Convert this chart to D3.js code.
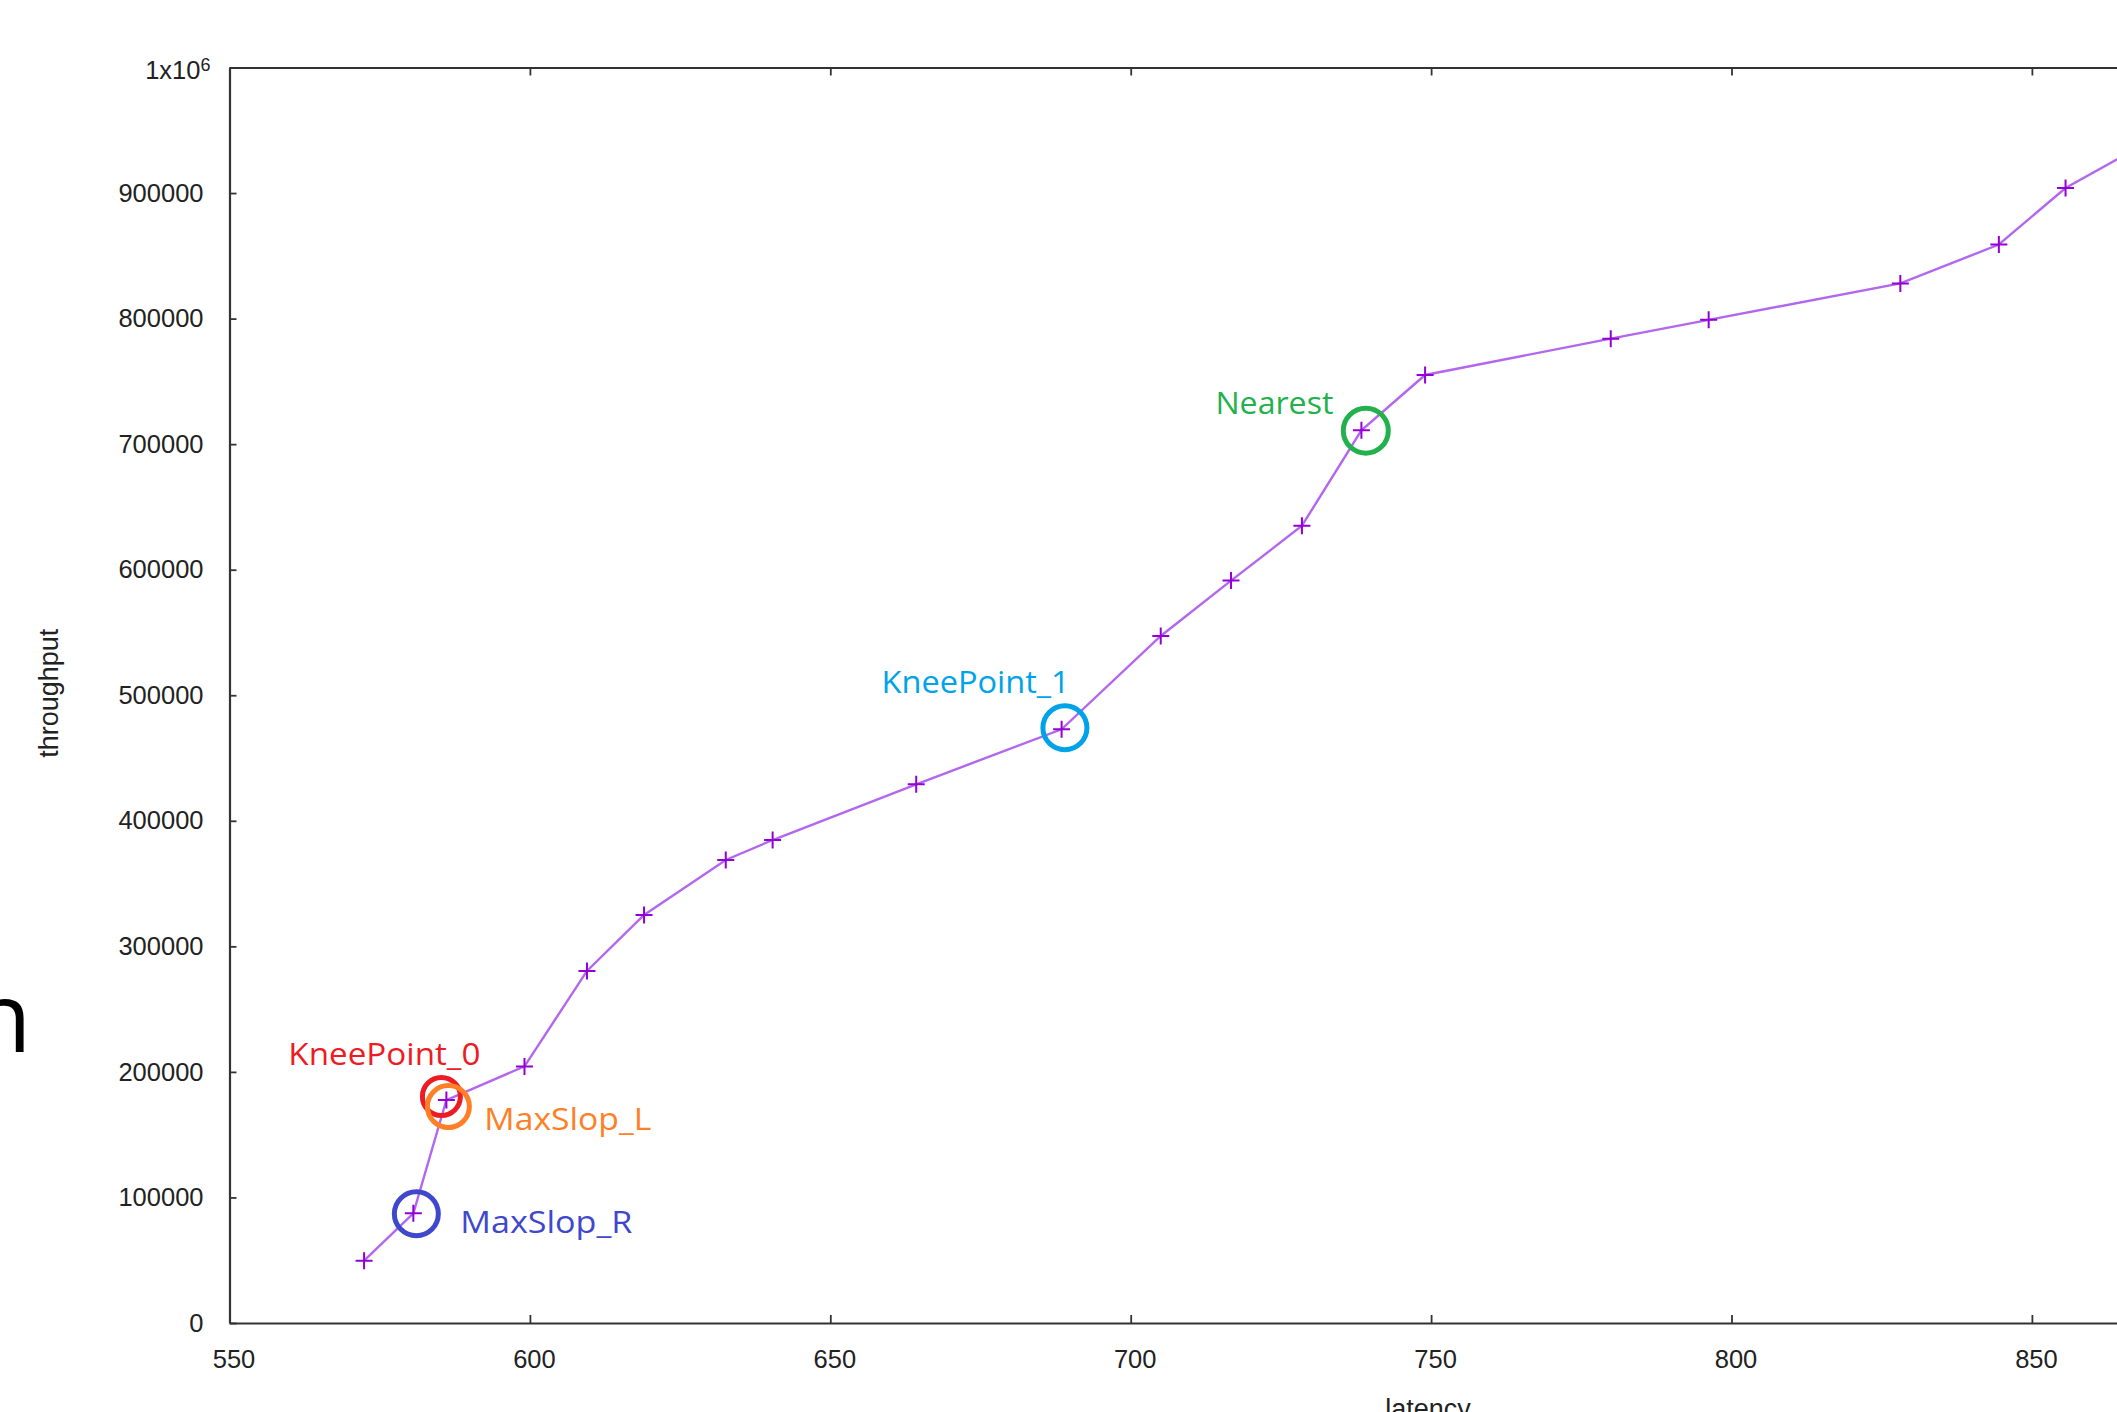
<!DOCTYPE html>
<html>
<head>
<meta charset="utf-8">
<script src="https://cdn.jsdelivr.net/npm/d3@7"></script>
<style>
  html, body { margin: 0; padding: 0; background: #fff; overflow: hidden; }
  svg { display: block; }
</style>
</head>
<body>
<svg id="chart" width="2117" height="1412"></svg>
<script>
// ---------------- data ----------------
const latency = [572.4, 580.6, 586.1, 599.1, 609.5, 619.0, 632.6, 640.4, 664.3, 688.5,
                 705.0, 716.7, 728.5, 738.4, 749.0, 779.9, 796.2, 828.1, 844.5, 855.6, 870.0];
const throughput = [49600, 87400, 177600, 204400, 280400, 325000, 368800, 384700, 429100, 472900,
                    547200, 591300, 635000, 711000, 755100, 784000, 799000, 828000, 859000, 904000, 942500];
const xTickValues = [550, 600, 650, 700, 750, 800, 850];
const yTickValues = [0, 100000, 200000, 300000, 400000, 500000, 600000, 700000, 800000, 900000, 1000000];
const xLabel = "latency";
const yLabel = "throughput";
const annotationLabels = ["KneePoint_0", "MaxSlop_L", "MaxSlop_R", "KneePoint_1", "Nearest"];
const annotationPointIndex = [2, 2, 1, 9, 13];

// ---------------- styles / layout ----------------
const annotationStyle = [
  { color: "#ED1C24", cdx: -5,  cdy: -3.5, r: 19, ldx: -158, ldy: -35, len: 192 },
  { color: "#FF7F27", cdx: 2,   cdy: 6.5,  r: 21, ldx: 38,   ldy: 30,  len: 167 },
  { color: "#3F48CC", cdx: 3,   cdy: 0.5,  r: 22, ldx: 47,   ldy: 20,  len: 172 },
  { color: "#00A2E8", cdx: 3.3, cdy: -1.5, r: 22, ldx: -180, ldy: -36, len: 188 },
  { color: "#22B14C", cdx: 4.4, cdy: 0.3,  r: 22.5, ldx: -146, ldy: -16, len: 118 }
];
const L = 229.5, T = 67.5, B = 1323;
const pxPerUnit = 6.008;

const svg = d3.select("#chart");
svg.append("rect").attr("width", 2117).attr("height", 1412).attr("fill", "#fff");

const x = d3.scaleLinear().domain([550, 900]).range([L, L + 350 * pxPerUnit]);
const y = d3.scaleLinear().domain([0, 1000000]).range([B, T]);

const axisColor = "#333";
const tickFont = "'Liberation Sans', Arial, sans-serif";

// bottom axis
const gx = svg.append("g").attr("transform", `translate(0,${B})`)
  .call(d3.axisBottom(x).tickValues(xTickValues).tickSizeInner(-8).tickSizeOuter(0).tickPadding(27).tickFormat(d3.format("d")));
// top axis (mirror ticks)
svg.append("g").attr("transform", `translate(0,${T})`)
  .call(d3.axisTop(x).tickValues(xTickValues).tickSizeInner(-8).tickSizeOuter(0).tickFormat(""));
// left axis
const gy = svg.append("g").attr("transform", `translate(${L},0)`)
  .call(d3.axisLeft(y).tickValues(yTickValues).tickSizeInner(-7).tickSizeOuter(0).tickPadding(26).tickFormat(d3.format("d")));
// right axis (mirror, offscreen)
svg.append("g").attr("transform", `translate(${x.range()[1]},0)`)
  .call(d3.axisRight(y).tickValues(yTickValues).tickSizeInner(-7).tickSizeOuter(0).tickFormat(""));

svg.selectAll(".domain").attr("stroke", axisColor).attr("stroke-width", 2.2);
svg.selectAll(".tick line").attr("stroke", axisColor).attr("stroke-width", 1.8);
svg.selectAll(".tick text")
  .attr("fill", "#222")
  .style("font-family", tickFont)
  .style("font-size", "25.5px");
gx.selectAll(".tick text").attr("dx", 4);

// 1x10^6 label
gy.selectAll(".tick").filter(d => d === 1000000).select("text")
  .text(null)
  .attr("x", -19)
  .attr("dy", "0.45em")
  .call(t => {
    t.append("tspan").text("1x10");
    t.append("tspan").text("6").attr("dy", -8).style("font-size", "18px");
  });

// axis titles
svg.append("text")
  .attr("transform", `translate(58,${(T + B) / 2 - 2}) rotate(-90)`)
  .attr("text-anchor", "middle")
  .style("font-family", tickFont)
  .style("font-size", "27px")
  .attr("fill", "#222")
  .text(yLabel);
svg.append("text")
  .attr("x", 1428).attr("y", 1418)
  .attr("text-anchor", "middle")
  .style("font-family", tickFont)
  .style("font-size", "27px")
  .attr("fill", "#222")
  .text(xLabel);

// series
const pts = latency.map((v, i) => [v, throughput[i]]);
svg.append("path")
  .datum(pts)
  .attr("fill", "none")
  .attr("stroke", "#b366ee")
  .attr("stroke-width", 2.4)
  .attr("d", d3.line().x(d => x(d[0])).y(d => y(d[1])));

const plusSize = 8.5;
svg.append("g").selectAll("path.pm")
  .data(pts).join("path")
  .attr("class", "pm")
  .attr("fill", "none")
  .attr("stroke", "#9400D3")
  .attr("stroke-width", 2)
  .attr("d", d => {
    const cx = x(d[0]), cy = y(d[1]);
    return `M${cx - plusSize},${cy}H${cx + plusSize}M${cx},${cy - plusSize}V${cy + plusSize}`;
  });

// annotations
const ann = annotationLabels.map((lab, i) => ({
  label: lab,
  p: pts[annotationPointIndex[i]],
  s: annotationStyle[i]
}));
const ag = svg.append("g");
ag.selectAll("circle").data(ann).join("circle")
  .attr("cx", d => x(d.p[0]) + d.s.cdx)
  .attr("cy", d => y(d.p[1]) + d.s.cdy)
  .attr("r", d => d.s.r)
  .attr("fill", "none")
  .attr("stroke", d => d.s.color)
  .attr("stroke-width", 5);
ag.selectAll("text").data(ann).join("text")
  .attr("x", d => x(d.p[0]) + d.s.ldx)
  .attr("y", d => y(d.p[1]) + d.s.ldy)
  .attr("textLength", d => d.s.len)
  .attr("lengthAdjust", "spacingAndGlyphs")
  .style("font-family", "'Open Sans', 'Noto Sans', sans-serif")
  .style("font-size", "31px")
  .attr("fill", d => d.s.color)
  .text(d => d.label);

// stray slide text fragment at left edge
svg.append("text")
  .attr("x", -28).attr("y", 1052)
  .style("font-family", "'Open Sans', sans-serif")
  .style("font-size", "97px")
  .attr("fill", "#000")
  .text("n");
</script>
</body>
</html>
